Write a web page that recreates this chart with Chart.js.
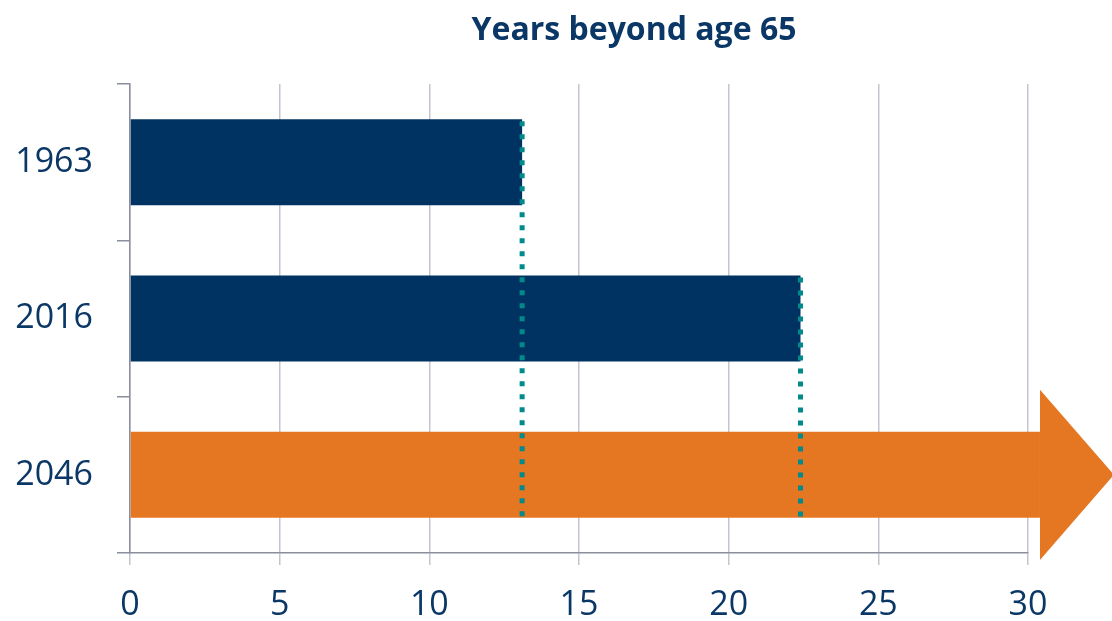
<!DOCTYPE html>
<html>
<head>
<meta charset="utf-8">
<script src="https://cdn.jsdelivr.net/npm/chart.js@4.4.1/dist/chart.umd.min.js"></script>
<style>
  html, body { margin: 0; padding: 0; background: #fff; }
  #chart { display: block; }
</style>
</head>
<body>
<canvas id="chart" width="1112" height="621"></canvas>
<script>
// years of life beyond age 65, by year
const years = ["1963", "2016", "2046"];
const yearsBeyond65 = [13.1, 22.4, 30.4];
const barColors = ["#003361", "#003361", "#e67722"];
const xTicks = [0, 5, 10, 15, 20, 25, 30];

const navyText = "#0a3766";
const gridColor = "#c3c6cf";
const axisColor = "#8b8e9c";

// arrow head on the last bar and dotted drop lines from the earlier bars
const arrowAndDrops = {
    id: "arrowAndDrops",
    afterDatasetsDraw(chart) {
        const meta = chart.getDatasetMeta(0);
        const bars = meta.data;
        const last = bars[bars.length - 1];
        const ctx = chart.ctx;

        ctx.save();
        const half = last.height * 0.99;
        ctx.fillStyle = barColors[bars.length - 1];
        ctx.beginPath();
        ctx.moveTo(last.x, last.y - half);
        ctx.lineTo(last.x + last.height * 0.86, last.y);
        ctx.lineTo(last.x, last.y + half);
        ctx.closePath();
        ctx.fill();

        ctx.strokeStyle = "#008a8c";
        ctx.lineWidth = 5;
        ctx.setLineDash([5, 8]);
        const bottom = last.y + last.height / 2;
        for (let i = 0; i < bars.length - 1; i++) {
            const b = bars[i];
            ctx.beginPath();
            ctx.moveTo(b.x, b.y - b.height / 2 + 2);
            ctx.lineTo(b.x, bottom);
            ctx.stroke();
        }
        ctx.restore();
    }
};

const titleText = {
    id: "titleText",
    afterDraw(chart) {
        const ctx = chart.ctx;
        ctx.save();
        ctx.fillStyle = navyText;
        ctx.font = "bold 32px 'Open Sans'";
        ctx.textAlign = "center";
        ctx.textBaseline = "alphabetic";
        ctx.fillText("Years beyond age 65", 634, 40);
        ctx.restore();
    }
};

new Chart(document.getElementById("chart"), {
    type: "bar",
    data: {
        labels: years,
        datasets: [{
            data: yearsBeyond65,
            backgroundColor: barColors,
            borderWidth: 0,
            categoryPercentage: 1,
            barPercentage: 0.55,
            clip: false
        }]
    },
    options: {
        indexAxis: "y",
        responsive: false,
        animation: false,
        layout: { padding: { top: 84, right: 84, left: 0, bottom: 0 } },
        plugins: {
            legend: { display: false },
            tooltip: { enabled: false }
        },
        scales: {
            x: {
                min: 0,
                max: 30,
                afterBuildTicks(scale) {
                    scale.ticks = xTicks.map(v => ({ value: v }));
                },
                afterFit(scale) { scale.height = 68; },
                grid: {
                    color: gridColor,
                    lineWidth: 1.5,
                    drawTicks: true,
                    tickLength: 12
                },
                border: { color: axisColor, width: 1.5 },
                ticks: {
                    color: navyText,
                    font: { family: "'Open Sans'", size: 34 },
                    padding: 20
                }
            },
            y: {
                afterFit(scale) { scale.width = 130; },
                grid: {
                    drawOnChartArea: false,
                    drawTicks: true,
                    tickLength: 13,
                    color: axisColor,
                    lineWidth: 1.5
                },
                border: { color: axisColor, width: 1.5 },
                ticks: {
                    color: navyText,
                    font: { family: "'Open Sans'", size: 34 },
                    padding: 24
                }
            }
        }
    },
    plugins: [arrowAndDrops, titleText]
});
</script>
</body>
</html>
